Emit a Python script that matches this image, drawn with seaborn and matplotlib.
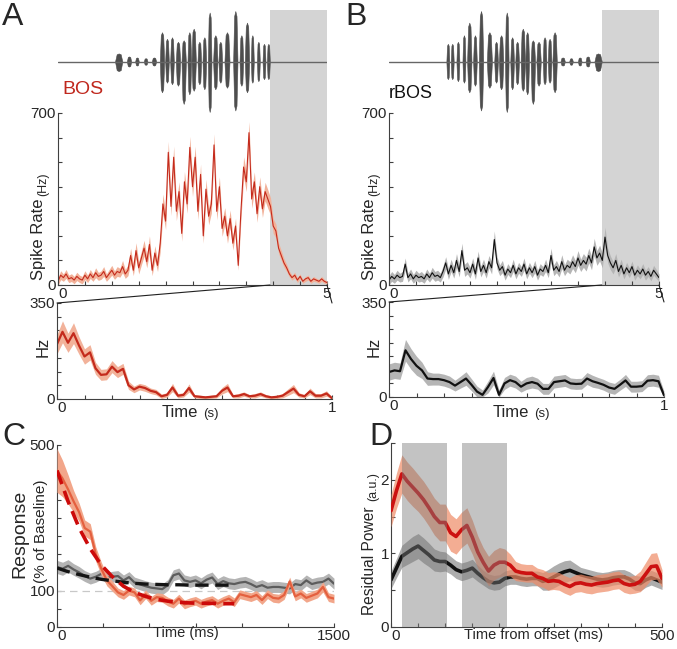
import numpy as np
import matplotlib
matplotlib.use("Agg")
import matplotlib.pyplot as plt
from matplotlib.patches import ConnectionPatch
import seaborn as sns

# ---- song (BOS): syllable centre (s), half width (s), up / down amplitude (normalised)
SYL_T = [1.128, 1.320, 1.468, 1.629, 1.784, 1.933, 2.026, 2.119, 2.230, 2.336, 2.441, 2.522, 2.627,
         2.720, 2.819, 2.924, 3.017, 3.141, 3.296, 3.408, 3.513, 3.612, 3.724, 3.829, 3.910]
SYL_HW = [0.062, 0.037, 0.031, 0.031, 0.037, 0.037, 0.031, 0.031, 0.037, 0.037, 0.031, 0.037, 0.031,
          0.031, 0.031, 0.037, 0.031, 0.043, 0.037, 0.031, 0.037, 0.025, 0.025, 0.025, 0.025]
SYL_UP = [0.16, 0.10, 0.08, 0.065, 0.08, 0.58, 0.45, 0.48, 0.39, 0.42, 0.58, 0.65, 0.39,
          0.48, 0.97, 0.52, 0.39, 0.58, 1.0, 0.52, 0.77, 0.52, 0.39, 0.35, 0.35]
SYL_DN = [0.19, 0.10, 0.08, 0.065, 0.08, 0.61, 0.42, 0.45, 0.48, 0.84, 0.65, 0.58, 0.45,
          0.55, 1.0, 0.55, 0.42, 0.52, 0.97, 0.48, 0.61, 0.42, 0.39, 0.35, 0.35]
SONG_LEN = 5.0
OFFSET = 3.94

# ---- A / B upper: spike rate (Hz), 0..5 s every 0.05 s
BOS_RATE = [15, 40, 30, 45, 25, 30, 20, 35, 25, 20, 40, 25, 45, 30, 50, 35, 40, 55, 30, 45,
            60, 40, 55, 50, 75, 45, 60, 120, 60, 140, 70, 110, 150, 95, 165, 60, 130, 80, 170, 330,
            260, 540, 320, 520, 300, 380, 210, 420, 330, 560, 400, 520, 300, 450, 200, 390, 280, 330, 570, 300,
            400, 230, 280, 200, 270, 170, 240, 80, 300, 480, 420, 620, 350, 420, 290, 400, 310, 380, 350, 320,
            240, 220, 150, 120, 90, 70, 45, 30, 40, 20, 35, 15, 25, 30, 15, 25, 20, 15, 25, 15, 10]
BOS_SEM = [15, 18, 15, 18, 15, 16, 15, 17, 15, 15, 18, 15, 18, 15, 20, 16, 17, 20, 15, 18,
           20, 17, 20, 18, 25, 18, 22, 30, 22, 32, 25, 28, 32, 25, 35, 22, 30, 25, 35, 40,
           35, 45, 38, 45, 38, 40, 32, 42, 38, 45, 40, 45, 35, 42, 30, 40, 35, 38, 45, 35,
           40, 32, 35, 30, 35, 28, 32, 20, 35, 42, 40, 45, 38, 40, 35, 40, 35, 38, 38, 35,
           30, 28, 22, 20, 18, 15, 12, 10, 12, 10, 10, 8, 10, 10, 8, 10, 8, 8, 10, 8, 6]
RBOS_RATE = [20, 35, 25, 40, 30, 35, 85, 30, 45, 25, 40, 30, 35, 25, 45, 30, 50, 35, 40, 30,
             55, 90, 45, 80, 50, 100, 55, 140, 60, 70, 50, 85, 45, 110, 55, 80, 50, 95, 70, 185,
             90, 60, 75, 40, 65, 50, 80, 45, 70, 55, 85, 45, 70, 50, 75, 40, 65, 55, 80, 50,
             120, 60, 75, 55, 95, 60, 80, 70, 95, 75, 110, 80, 100, 85, 120, 90, 155, 110, 130, 100,
             195, 120, 90, 70, 100, 55, 80, 45, 70, 50, 75, 40, 60, 45, 65, 40, 55, 35, 60, 45, 30]
RBOS_SEM = [18, 20, 18, 20, 18, 20, 25, 18, 20, 18, 20, 18, 20, 18, 20, 18, 22, 20, 20, 18,
            22, 25, 22, 25, 22, 28, 22, 30, 25, 25, 22, 25, 22, 28, 22, 25, 22, 25, 25, 35,
            25, 22, 25, 20, 22, 20, 25, 20, 22, 20, 25, 20, 22, 20, 25, 20, 22, 20, 25, 20,
            30, 22, 25, 22, 28, 22, 25, 25, 28, 25, 30, 25, 28, 28, 30, 28, 35, 30, 32, 30,
            40, 30, 28, 25, 28, 22, 25, 20, 22, 20, 22, 20, 22, 20, 22, 20, 20, 18, 20, 18, 15]

# ---- A / B lower: first second after offset, every 0.02 s
BOS_POST = [200, 245, 205, 240, 195, 155, 170, 112, 88, 90, 118, 98, 110, 50, 35, 45, 40, 30, 25, 10,
            15, 42, 12, 15, 40, 10, 8, 6, 8, 10, 30, 42, 10, 12, 18, 10, 12, 18, 10, 6,
            8, 12, 25, 38, 15, 10, 28, 12, 12, 20, 3]
BOS_POST_SEM = [35, 40, 35, 38, 32, 28, 28, 22, 20, 20, 22, 20, 20, 15, 12, 12, 12, 10, 10, 8,
                8, 15, 8, 8, 15, 6, 6, 5, 6, 6, 12, 15, 6, 8, 8, 6, 8, 8, 6, 5,
                6, 8, 12, 15, 8, 6, 12, 8, 8, 10, 4]
RBOS_POST = [92, 98, 95, 172, 140, 115, 98, 68, 66, 66, 62, 55, 42, 55, 68, 45, 20, 8, 37, 70,
             8, 50, 62, 55, 38, 50, 55, 49, 30, 30, 55, 58, 61, 50, 48, 49, 68, 58, 52, 45,
             35, 30, 45, 61, 38, 38, 40, 60, 62, 58, 6]
RBOS_POST_SEM = [30, 30, 30, 40, 38, 35, 30, 25, 22, 22, 22, 22, 20, 22, 25, 22, 20, 18, 22, 25,
                 18, 22, 22, 22, 20, 22, 22, 20, 20, 20, 22, 22, 22, 20, 20, 20, 22, 22, 20, 20,
                 20, 20, 20, 22, 20, 20, 20, 22, 22, 22, 15]

# ---- C: response (% of baseline), 0..1500 ms every 30 ms
BOS_RESP = [430, 408, 378, 345, 315, 272, 262, 200, 160, 128,
            112, 95, 88, 100, 95, 73, 90, 72, 82, 80,
            70, 64, 78, 62, 68, 72, 64, 70, 74, 64,
            72, 78, 68, 90, 86, 82, 88, 74, 90, 80,
            78, 88, 125, 84, 92, 80, 86, 92, 110, 82, 78]
BOS_RESP_SEM = [60, 50, 40, 30, 25, 22, 22, 20, 18, 15,
                14, 12, 12, 12, 12, 12, 12, 12, 12, 12,
                12, 12, 12, 12, 12, 12, 12, 12, 12, 12,
                12, 12, 12, 12, 12, 12, 12, 12, 12, 12,
                12, 12, 12, 12, 12, 12, 12, 12, 14, 12, 12]
RBOS_RESP = [165, 160, 168, 158, 150, 140, 133, 138, 146, 135,
             138, 140, 128, 137, 122, 117, 112, 108, 106, 104,
             115, 142, 147, 128, 124, 128, 120, 130, 136, 118,
             126, 120, 118, 122, 124, 118, 110, 115, 108, 110,
             110, 108, 106, 118, 115, 128, 118, 122, 124, 133, 119]
RBOS_RESP_SEM = [18, 18, 17, 16, 16, 15, 15, 15, 15, 15,
                 15, 15, 15, 15, 15, 15, 15, 15, 15, 15,
                 15, 15, 15, 15, 15, 15, 15, 15, 15, 15,
                 15, 15, 15, 15, 15, 15, 15, 15, 15, 15,
                 15, 15, 15, 15, 15, 15, 15, 15, 15, 15, 15]
# exponential fits, 0..960 ms every 60 ms
BOS_FIT = [430, 345, 272, 215, 170, 138, 112, 95, 84, 76, 71, 68, 66, 65, 65, 64, 64]
RBOS_FIT = [162, 152, 144, 137, 131, 127, 123, 120, 118, 117, 116, 116, 115, 115, 115, 115, 115]

# ---- D: residual power, 0..500 ms every 10 ms
POW_BOS = [1.58, 1.85, 2.08, 1.98, 1.90, 1.82, 1.73, 1.62, 1.50, 1.42,
           1.42, 1.28, 1.23, 1.32, 1.38, 1.22, 1.02, 0.88, 0.76, 0.84,
           0.88, 0.88, 0.84, 0.76, 0.74, 0.73, 0.73, 0.68, 0.66, 0.62,
           0.63, 0.62, 0.58, 0.55, 0.59, 0.60, 0.58, 0.57, 0.59, 0.60,
           0.61, 0.63, 0.64, 0.59, 0.57, 0.58, 0.62, 0.72, 0.82, 0.83, 0.66]
POW_BOS_SEM = [0.22, 0.24, 0.26, 0.26, 0.26, 0.25, 0.25, 0.25, 0.25, 0.25,
               0.25, 0.25, 0.24, 0.24, 0.24, 0.23, 0.22, 0.20, 0.20, 0.20,
               0.20, 0.18, 0.15, 0.13, 0.12, 0.12, 0.12, 0.12, 0.12, 0.12,
               0.12, 0.12, 0.12, 0.12, 0.12, 0.12, 0.12, 0.12, 0.12, 0.12,
               0.12, 0.12, 0.12, 0.12, 0.12, 0.12, 0.14, 0.16, 0.18, 0.18, 0.12]
POW_RBOS = [0.64, 0.80, 0.96, 1.01, 1.06, 1.10, 1.04, 0.98, 0.91, 0.89,
            0.89, 0.84, 0.78, 0.75, 0.77, 0.80, 0.73, 0.67, 0.62, 0.60,
            0.61, 0.66, 0.68, 0.68, 0.66, 0.65, 0.66, 0.66, 0.62, 0.64,
            0.68, 0.72, 0.75, 0.77, 0.74, 0.71, 0.69, 0.67, 0.65, 0.64,
            0.65, 0.67, 0.68, 0.68, 0.65, 0.60, 0.59, 0.64, 0.67, 0.64, 0.61]
POW_RBOS_SEM = [0.12, 0.13, 0.15, 0.16, 0.17, 0.17, 0.17, 0.16, 0.15, 0.14,
                0.13, 0.12, 0.12, 0.12, 0.12, 0.12, 0.11, 0.10, 0.10, 0.10,
                0.10, 0.10, 0.10, 0.10, 0.10, 0.10, 0.10, 0.10, 0.12, 0.14,
                0.15, 0.15, 0.15, 0.14, 0.12, 0.10, 0.10, 0.10, 0.10, 0.10,
                0.10, 0.10, 0.10, 0.10, 0.10, 0.10, 0.10, 0.10, 0.10, 0.10, 0.10]
WIN_START = [21, 131]
WIN_END = [103, 214]

t_full = np.linspace(0, SONG_LEN, len(BOS_RATE))
t_post = np.linspace(0, 1, len(BOS_POST))
t_resp = np.linspace(0, 1500, len(BOS_RESP))
t_fit = np.linspace(0, 960, len(BOS_FIT))
t_pow = np.linspace(0, 500, len(POW_BOS))

sns.set_style("ticks")
plt.rcParams['font.family'] = ['Liberation Sans', 'DejaVu Sans']

W, H = 677, 649
fig = plt.figure(figsize=(W / 100, H / 100), dpi=100)

def px_axes(left, top, right, bottom):
    return fig.add_axes([left / W, 1 - bottom / H, (right - left) / W, (bottom - top) / H])

def ftext(x, y, s, **kw):
    return fig.text(x / W, 1 - y / H, s, **kw)

AX_COL = '#404040'
SHADE = '#d4d4d4'

def style(ax, xticks, yticks):
    sns.despine(ax=ax)
    ax.set_xticks(xticks)
    ax.set_yticks(yticks)
    ax.tick_params(direction='in', length=3, width=0.8, color=AX_COL, labelsize=11, pad=1.5)
    for s in ['left', 'bottom']:
        ax.spines[s].set_color(AX_COL)
        ax.spines[s].set_linewidth(0.8)
    ax.set_xlabel('')
    ax.set_ylabel('')

def end_labels(ticks, fmt):
    return [fmt(v) if i in (0, len(ticks) - 1) else '' for i, v in enumerate(ticks)]

def corner_zero(ax):
    # the x "0" sits just right of the corner, beside the y "0"
    ax.get_xticklabels()[0].set_horizontalalignment('left')

def song(ax, times):
    shape = np.array([0, 0.9, 1, 0.9, 0])
    offs = np.array([-1.1, -0.6, 0, 0.6, 1.1])
    for t, hw, up, dn in zip(times, SYL_HW, SYL_UP, SYL_DN):
        ax.fill_between(t + hw * offs, -dn * shape, up * shape, color='#4e4e4e', lw=0.4,
                        edgecolor='#4e4e4e')
    ax.axhline(0, color='#666666', lw=1)
    ax.axvspan(OFFSET, SONG_LEN, color=SHADE, lw=0, zorder=0)
    ax.set_xlim(0, SONG_LEN)
    ax.set_ylim(-1.02, 1.02)
    ax.axis('off')

def trace(ax, x, y, sem, line_col, band_col, lw, band_alpha=1.0, z=2):
    y = np.array(y, float)
    sem = np.array(sem, float)
    ax.fill_between(x, np.clip(y - sem, 0, None), y + sem, color=band_col, lw=0,
                    alpha=band_alpha, zorder=z)
    sns.lineplot(x=x, y=y, ax=ax, color=line_col, lw=lw, zorder=z + 0.5)

panels = [
    dict(x0=58, x1=327, lx1=332, ltop=303, lbot=399, times=SYL_T, rate=BOS_RATE, sem=BOS_SEM,
         post=BOS_POST, post_sem=BOS_POST_SEM, line='#c42a1c', band='#f2b29a', lwa=0.8,
         name='BOS', name_col='#c0281e', name_xy=(62, 90), name_fs=14, letter='A', lx=2),
    dict(x0=389, x1=659, lx1=664, ltop=302, lbot=397, times=[SONG_LEN - t for t in SYL_T],
         rate=RBOS_RATE, sem=RBOS_SEM, post=RBOS_POST, post_sem=RBOS_POST_SEM,
         line='#111111', band='#b5b5b5', lwa=0.8,
         name='rBOS', name_col='#111111', name_xy=(389, 93), name_fs=13, letter='B', lx=345),
]

for p in panels:
    ax_w = px_axes(p['x0'], 10, p['x1'], 113)
    song(ax_w, p['times'])

    ax = px_axes(p['x0'], 113, p['x1'], 285)
    ax.axvspan(OFFSET, SONG_LEN, color=SHADE, lw=0, zorder=0)
    trace(ax, t_full, p['rate'], p['sem'], p['line'], p['band'], p['lwa'])
    ax.set_xlim(0, SONG_LEN)
    ax.set_ylim(0, 700)
    xt = np.arange(0, 5.01, 0.5)
    yt = np.arange(0, 701, 100)
    style(ax, xt, yt)
    ax.set_xticklabels(end_labels(xt, lambda v: f'{v:g}'))
    ax.set_yticklabels(end_labels(yt, lambda v: f'{v:g}'))
    corner_zero(ax)

    axl = px_axes(p['x0'] - (1 if p['letter'] == 'A' else 0), p['ltop'], p['lx1'], p['lbot'])
    trace(axl, t_post, p['post'], p['post_sem'], p['line'], p['band'], 1.6)
    axl.set_xlim(0, 1)
    axl.set_ylim(0, 350)
    xt = np.arange(0, 1.001, 0.1)
    yt = np.arange(0, 351, 50)
    style(axl, xt, yt)
    axl.set_xticklabels(end_labels(xt, lambda v: f'{v:g}'))
    axl.set_yticklabels(end_labels(yt, lambda v: f'{v:g}'))
    corner_zero(axl)

    # zoom connectors
    for xa, xb in [(0, OFFSET), (1, SONG_LEN)]:
        con = ConnectionPatch(xyA=(xa, 1), coordsA=axl.transAxes, xyB=(xb, 0), coordsB=ax.transData,
                              color='#202020', lw=0.8)
        fig.add_artist(con)

    ox = p['x0'] - 58
    ftext(*p['name_xy'], p['name'], color=p['name_col'], fontsize=p['name_fs'], va='center')
    ftext(38 + ox, 280, 'Spike Rate', rotation=90, fontsize=12, ha='center', va='bottom')
    ftext(43.5 + ox, 196, '(Hz)', rotation=90, fontsize=9, ha='center', va='bottom')
    ftext(43 + ox, 347, 'Hz', rotation=90, fontsize=12, ha='center', va='center')
    ftext(162 + ox, 417, 'Time', fontsize=12, va='baseline')
    ftext(203 + ox, 417, '(s)', fontsize=9.5, va='baseline')
    ftext(p['lx'], 2, p['letter'], fontsize=23, va='top')

# ---- C
axc = px_axes(57, 445, 334, 627)
axc.axhline(100, color='#c8c8c8', lw=0.9, ls=(0, (6, 4)), zorder=1)
trace(axc, t_resp, RBOS_RESP, RBOS_RESP_SEM, '#5c5c5c', '#b4b4b4', 1.6, z=2)
trace(axc, t_resp, BOS_RESP, BOS_RESP_SEM, '#e4603f', '#f2a68a', 1.6, z=3)
sns.lineplot(x=t_fit, y=RBOS_FIT, ax=axc, color='#141414', lw=2.4, zorder=5,
             linestyle=(0, (4, 2)))
sns.lineplot(x=t_fit, y=BOS_FIT, ax=axc, color='#cc0a0a', lw=2.6, zorder=6,
             linestyle=(0, (4, 2)))
axc.set_xlim(0, 1500)
axc.set_ylim(0, 500)
xt = np.arange(0, 1501, 250)
yt = np.arange(0, 501, 50)
style(axc, xt, yt)
axc.set_xticklabels(end_labels(xt, lambda v: f'{v:g}'))
axc.set_yticklabels(['0', '', '100', '', '', '', '', '', '', '', '500'])
corner_zero(axc)
ftext(2, 422, 'C', fontsize=23, va='top')
ftext(20, 578, 'Response', rotation=90, fontsize=14, ha='center', va='bottom')
ftext(41, 583, '(% of Baseline)', rotation=90, fontsize=11, ha='center', va='bottom')
ftext(186, 637, 'Time (ms)', fontsize=10.5, ha='center', va='baseline')

# ---- D
axd = px_axes(391, 443, 662, 627)
trace(axd, t_pow, POW_RBOS, POW_RBOS_SEM, '#111111', '#8a8a8a', 2.6, band_alpha=0.7, z=1)
trace(axd, t_pow, POW_BOS, POW_BOS_SEM, '#cc1111', '#ee8a66', 2.6, band_alpha=0.7, z=3)
for s0, s1 in zip(WIN_START, WIN_END):
    axd.axvspan(s0, s1, color='#7a7a7a', alpha=0.45, lw=0, zorder=5)
axd.set_xlim(0, 500)
axd.set_ylim(0, 2.5)
xt = np.arange(0, 501, 50)
yt = np.arange(0, 2.51, 0.5)
style(axd, xt, yt)
axd.set_xticklabels(end_labels(xt, lambda v: f'{v:g}'))
axd.set_yticklabels(['0', '', '1', '', '2', ''])
corner_zero(axd)
ftext(369, 422, 'D', fontsize=23, va='top')
ftext(369, 615, 'Residual Power', rotation=90, fontsize=11.2, ha='center', va='bottom')
ftext(373, 501, '(a.u.)', rotation=90, fontsize=9, ha='center', va='bottom')
ftext(534, 639, 'Time from offset (ms)', fontsize=10.5, ha='center', va='baseline')

fig.savefig('out.png', dpi=100)
